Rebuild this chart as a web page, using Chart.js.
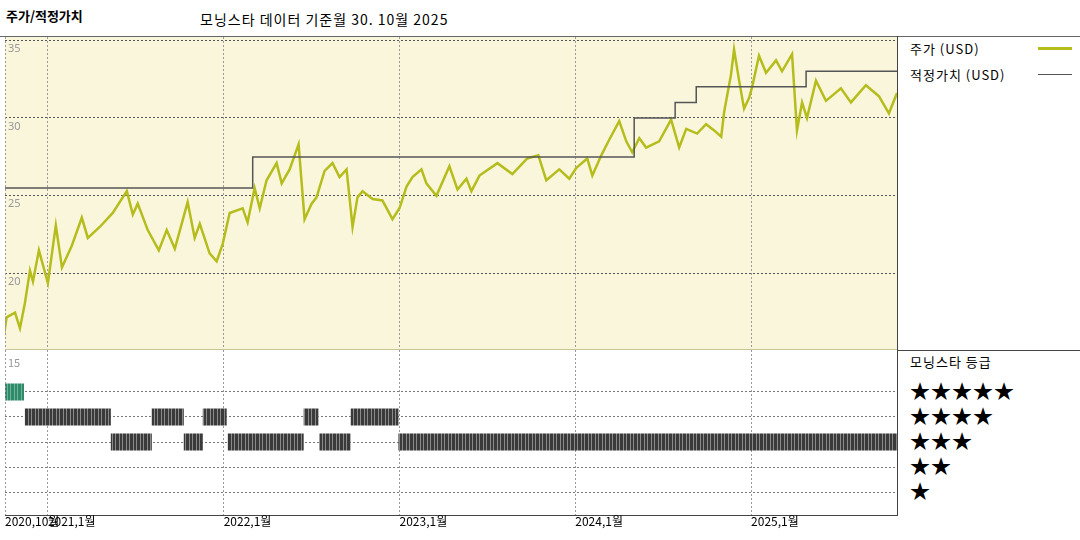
<!DOCTYPE html>
<html>
<head>
<meta charset="utf-8">
<script src="https://cdn.jsdelivr.net/npm/chart.js@4.4.1/dist/chart.umd.min.js"></script>
<style>
  body { margin: 0; width: 1080px; height: 540px; background: #fff; position: relative; overflow: hidden;
         font-family: "Noto Sans CJK KR", "Noto Sans", sans-serif; }
  .abs { position: absolute; white-space: nowrap; }
  canvas { position: absolute; }
  .stars { font-size: 20px; line-height: 25px; letter-spacing: 1px; color: #000; }
</style>
</head>
<body>
<div class="abs" style="left:6px;top:6px;font-size:13px;font-weight:bold;">주가/적정가치</div>
<div class="abs" style="left:200px;top:9px;font-size:14px;letter-spacing:1px;">모닝스타 데이터 기준월 30. 10월 2025</div>

<div class="abs" style="left:0;top:36px;width:1080px;height:1px;background:#666;"></div>
<div class="abs" style="left:897px;top:36px;width:1px;height:480px;background:#444;"></div>
<div class="abs" style="left:897px;top:350px;width:183px;height:1px;background:#444;"></div>
<div class="abs" style="left:5px;top:515px;width:892px;height:1px;background:#444;"></div>

<div class="abs" style="left:910px;top:39px;font-size:13px;letter-spacing:1px;">주가 (USD)</div>
<div class="abs" style="left:1038px;top:47px;width:34px;height:3px;background:#b5bd1d;"></div>
<div class="abs" style="left:910px;top:65px;font-size:13px;letter-spacing:1px;">적정가치 (USD)</div>
<div class="abs" style="left:1038px;top:74px;width:34px;height:1px;background:#555;"></div>

<div class="abs" style="left:910px;top:352px;font-size:13px;letter-spacing:1px;">모닝스타 등급</div>
<div class="abs stars" style="left:910px;top:378px;">★★★★★<br>★★★★<br>★★★<br>★★<br>★</div>

<canvas id="priceChart" width="892" height="313" style="left:5px;top:37px;"></canvas>
<canvas id="ratingChart" width="892" height="165" style="left:5px;top:350px;"></canvas>
<canvas id="axisLabels" width="1080" height="30" style="left:0;top:512px;"></canvas>
<div class="abs" style="left:5px;top:349px;width:892px;height:1px;background:#c8c49a;"></div>
<div class="abs" style="left:8px;top:354px;font-size:11px;color:#999;">15</div>

<script>
// dates are decimal years
const START = 2020.756;
const END = 2025.83;
const yearTicks = [2021, 2022, 2023, 2024, 2025];
const xLabels = ['2020,10월', '2021,1월', '2022,1월', '2023,1월', '2024,1월', '2025,1월'];
const xLabelPos = [START, 2021, 2022, 2023, 2024, 2025];
const priceTicks = [20, 25, 30, 35];

const priceDates = [2020.746, 2020.765, 2020.813, 2020.841, 2020.869, 2020.898, 2020.915, 2020.949, 2021.000,
  2021.045, 2021.080, 2021.136, 2021.193, 2021.227, 2021.295, 2021.369, 2021.449, 2021.483, 2021.511,
  2021.568, 2021.631, 2021.676, 2021.722, 2021.795, 2021.835, 2021.864, 2021.920, 2021.960, 2021.994,
  2022.034, 2022.108, 2022.136, 2022.176, 2022.205, 2022.244, 2022.301, 2022.330, 2022.375, 2022.426,
  2022.460, 2022.500, 2022.528, 2022.574, 2022.619, 2022.659, 2022.699, 2022.733, 2022.761, 2022.790,
  2022.847, 2022.903, 2022.960, 2023.000, 2023.040, 2023.074, 2023.125, 2023.153, 2023.210, 2023.284,
  2023.330, 2023.381, 2023.409, 2023.455, 2023.557, 2023.642, 2023.727, 2023.790, 2023.835, 2023.909,
  2023.966, 2024.006, 2024.068, 2024.097, 2024.148, 2024.193, 2024.250, 2024.290, 2024.324, 2024.364,
  2024.403, 2024.477, 2024.545, 2024.591, 2024.631, 2024.693, 2024.744, 2024.790, 2024.830, 2024.847,
  2024.886, 2024.903, 2024.932, 2024.960, 2024.989, 2025.006, 2025.045, 2025.085, 2025.142, 2025.176,
  2025.233, 2025.261, 2025.290, 2025.318, 2025.369, 2025.426, 2025.511, 2025.568, 2025.653, 2025.727,
  2025.784, 2025.830];
const priceValues = [15.7, 17.2, 17.5, 16.5, 18.1, 20.2, 19.5, 21.5, 19.4,
  23.1, 20.4, 21.8, 23.6, 22.3, 23.0, 23.9, 25.3, 23.8, 24.5,
  22.8, 21.5, 22.8, 21.6, 24.6, 22.3, 23.2, 21.3, 20.8, 21.9,
  23.9, 24.2, 23.3, 25.5, 24.2, 26.0, 27.1, 25.8, 26.7, 28.3,
  23.5, 24.5, 24.9, 26.6, 27.1, 26.2, 26.7, 23.0, 24.9, 25.3,
  24.8, 24.7, 23.5, 24.2, 25.6, 26.2, 26.7, 25.8, 25.0, 26.9,
  25.4, 26.1, 25.3, 26.3, 27.1, 26.4, 27.4, 27.6, 26.0, 26.7,
  26.1, 26.8, 27.4, 26.3, 27.6, 28.6, 29.8, 28.5, 27.8, 28.7,
  28.1, 28.5, 29.9, 28.1, 29.3, 29.0, 29.6, 29.2, 28.8, 30.4,
  32.8, 34.4, 32.4, 30.6, 31.3, 32.0, 34.0, 32.9, 33.7, 33.0,
  34.1, 29.2, 31.0, 30.0, 32.4, 31.1, 31.9, 31.0, 32.1, 31.4,
  30.3, 31.6];

const fairDates = [2020.746, 2022.165, 2024.335, 2024.568, 2024.688, 2025.313, 2025.830];
const fairValues = [25.5, 27.5, 30.0, 31.0, 32.0, 33.0, 33.0];

// rating periods: [start, end, stars]
const ratingStarts = [2020.756, 2020.869, 2021.358, 2021.591, 2021.773, 2021.881, 2022.023, 2022.455, 2022.545, 2022.722, 2022.994];
const ratingEnds   = [2020.864, 2021.358, 2021.591, 2021.773, 2021.881, 2022.017, 2022.455, 2022.540, 2022.722, 2022.994, 2025.830];
const ratingStars  = [5, 4, 3, 4, 3, 4, 3, 4, 3, 4, 3];

const GRID = '#9a9a9a';

function xScale() {
  return {
    type: 'linear', min: START, max: END,
    afterBuildTicks: s => { s.ticks = yearTicks.map(v => ({ value: v })); },
    ticks: { display: false },
    grid: { color: GRID, drawTicks: false },
    border: { display: false, dash: [2, 2] }
  };
}

// striped fill, like the many thin daily ticks in the rating bars
function stripes(base, light) {
  const c = document.createElement('canvas');
  c.width = 7; c.height = 4;
  const g = c.getContext('2d');
  g.fillStyle = base; g.fillRect(0, 0, 7, 4);
  g.fillStyle = light; g.fillRect(2, 0, 1, 4); g.fillRect(5, 0, 1, 4);
  return g.createPattern(c, 'repeat');
}

const insideYLabels = {
  id: 'insideYLabels',
  afterDraw(chart) {
    if (chart.canvas.id !== 'priceChart') return;
    const { ctx } = chart;
    const y = chart.scales.y;
    ctx.save();
    ctx.font = '11px "Noto Sans", sans-serif';
    ctx.fillStyle = '#999';
    ctx.textBaseline = 'top';
    priceTicks.forEach(v => ctx.fillText(String(v), 3, y.getPixelForValue(v) + 3));
    ctx.restore();
  }
};

const frame = {
  id: 'frame',
  beforeDraw(chart, args, opts) {
    const { ctx, chartArea: a } = chart;
    ctx.save();
    ctx.fillStyle = opts.color;
    ctx.fillRect(a.left, a.top, a.right - a.left, a.bottom - a.top);
    ctx.restore();
  },
  afterDraw(chart) {
    const { ctx, chartArea: a } = chart;
    ctx.save();
    ctx.strokeStyle = GRID;
    ctx.setLineDash([2, 2]);
    ctx.beginPath();
    ctx.moveTo(a.left + 0.5, a.top); ctx.lineTo(a.left + 0.5, a.bottom);
    ctx.stroke();
    ctx.restore();
  }
};

new Chart(document.getElementById('priceChart'), {
  type: 'line',
  data: {
    datasets: [
      {
        label: '적정가치 (USD)',
        data: fairDates.map((d, i) => ({ x: d, y: fairValues[i] })),
        borderColor: '#555', borderWidth: 1.5, stepped: true, pointRadius: 0
      },
      {
        label: '주가 (USD)',
        data: priceDates.map((d, i) => ({ x: d, y: priceValues[i] })),
        borderColor: '#b5bd1d', borderWidth: 2.5, pointRadius: 0, tension: 0
      }
    ]
  },
  options: {
    responsive: false, animation: false, devicePixelRatio: 1,
    layout: { padding: 0 },
    plugins: { legend: { display: false }, tooltip: { enabled: false }, frame: { color: '#faf6dc' } },
    scales: {
      x: xScale(),
      y: {
        min: 15.1, max: 35.2,
        afterBuildTicks: s => { s.ticks = priceTicks.map(v => ({ value: v })); },
        ticks: { display: false },
        grid: { color: '#555', drawTicks: false },
        border: { display: false, dash: [2, 2] }
      }
    }
  },
  plugins: [frame, insideYLabels]
});

const greyStripes = stripes('#3a3a3a', '#8a8a8a');
const greenStripes = stripes('#2e8a68', '#6fb398');

const ratingDatasets = ratingStarts.map((s, i) => ({
  data: [{ x: s, y: ratingStars[i] }, { x: ratingEnds[i], y: ratingStars[i] }],
  borderColor: ratingStars[i] === 5 ? greenStripes : greyStripes,
  borderWidth: 17, borderCapStyle: 'butt', pointRadius: 0
}));

new Chart(document.getElementById('ratingChart'), {
  type: 'line',
  data: { datasets: ratingDatasets },
  options: {
    responsive: false, animation: false, devicePixelRatio: 1,
    layout: { padding: 0 },
    plugins: { legend: { display: false }, tooltip: { enabled: false }, frame: { color: '#ffffff' } },
    scales: {
      x: xScale(),
      y: {
        min: 0.08, max: 6.68,
        afterBuildTicks: s => { s.ticks = [1, 2, 3, 4, 5].map(v => ({ value: v })); },
        ticks: { display: false },
        grid: { color: '#777', drawTicks: false },
        border: { display: false, dash: [2, 2] }
      }
    }
  },
  plugins: [frame]
});

// x axis labels, placed with the same linear mapping as the charts
(function drawXLabels() {
  const ctx = document.getElementById('axisLabels').getContext('2d');
  ctx.font = '12px "Noto Sans CJK KR", sans-serif';
  ctx.fillStyle = '#000';
  ctx.textBaseline = 'top';
  xLabelPos.forEach((v, i) => {
    const px = 5 + (v - START) / (END - START) * 892;
    ctx.fillText(xLabels[i], px, 3);
  });
})();
</script>
</body>
</html>
